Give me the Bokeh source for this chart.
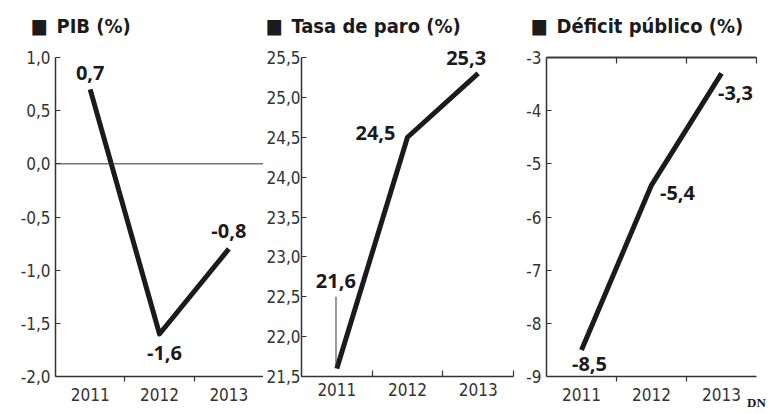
from bokeh.plotting import figure
from bokeh.layouts import row
from bokeh.models import FixedTicker, Label, Span, LinearAxis, Range1d, Title
from bokeh.embed import file_html
from bokeh.resources import INLINE

# ---- data ----
years = ["2011", "2012", "2013"]
pib = [0.7, -1.6, -0.8]
paro = [21.6, 24.5, 25.3]
deficit = [-8.5, -5.4, -3.3]

pib_ticks = [1.0, 0.5, 0.0, -0.5, -1.0, -1.5, -2.0]
paro_ticks = [25.5, 25.0, 24.5, 24.0, 23.5, 23.0, 22.5, 22.0, 21.5]
deficit_ticks = [-3, -4, -5, -6, -7, -8, -9]

titles = ["■\u2002PIB (%)", "■\u2002Tasa de paro (%)", "■\u2002Déficit público (%)"]
source_note = "DN"

# ---- style ----
INK = "#1c1a1b"
AX = "#333333"
TICK_FONT = "'DejaVu Sans Condensed', Roboto"
TITLE_FONT = "'DejaVu Sans Condensed', Roboto"
VAL_FONT = "Open Sans"
FRAME_H = 332          # plot area height (incl. headroom above the top tick)
HEAD_PX = 13           # headroom above the top tick, in pixels
TOP_TICK_PX = 6


def comma1(v):
    return f"{v:.1f}".replace(".", ",")


def comma0(v):
    return f"{v:.0f}"


xs = [i + 0.5 for i in range(len(years))]
bounds = [float(i) for i in range(1, len(years) + 1)]


def make_panel(vals, yticks, yfmt, frame_w, bl, br, ystandoff, minor, minor_in,
               title, title_off, offsets):
    lo, hi = min(yticks), max(yticks)
    pad = (hi - lo) * HEAD_PX / (FRAME_H - HEAD_PX)
    p = figure(frame_width=frame_w, frame_height=FRAME_H,
               x_range=Range1d(0, len(years)),
               y_range=Range1d(lo, hi + pad),
               output_backend="svg", toolbar_location=None, tools="",
               min_border_left=bl, min_border_right=br,
               min_border_top=44, min_border_bottom=37)
    p.xgrid.visible = False
    p.ygrid.visible = False
    p.outline_line_color = None
    p.background_fill_color = "white"
    p.border_fill_color = "white"

    # y axis
    ya = p.yaxis[0]
    ya.ticker = FixedTicker(ticks=yticks)
    ya.bounds = (lo, hi)
    ya.major_label_overrides = {t: yfmt(t) for t in yticks}
    ya.major_tick_in = 5
    ya.major_tick_out = 0
    ya.minor_tick_line_color = None
    ya.axis_line_color = AX
    ya.axis_line_width = 1.5
    ya.major_tick_line_color = AX
    ya.major_tick_line_width = 1.2
    ya.major_label_text_font = TICK_FONT
    ya.major_label_text_font_size = "17px"
    ya.major_label_text_color = AX
    ya.major_label_standoff = ystandoff

    # x axis: labels at category centres, ticks at category boundaries
    xa = p.below[0]
    xa.ticker = FixedTicker(ticks=xs, minor_ticks=minor)
    xa.major_label_overrides = {x: y for x, y in zip(xs, years)}
    xa.major_tick_in = 0
    xa.major_tick_out = 0
    if minor_in:
        xa.minor_tick_in = 6
        xa.minor_tick_out = 0
    else:
        xa.minor_tick_in = 0
        xa.minor_tick_out = 5
    xa.minor_tick_line_color = AX
    xa.minor_tick_line_width = 1.2
    xa.axis_line_color = AX
    xa.axis_line_width = 1.5
    xa.major_label_text_font = TICK_FONT
    xa.major_label_text_font_size = "17px"
    xa.major_label_text_color = AX
    xa.major_label_standoff = 6

    # data line
    p.line(xs, vals, line_width=5, line_color=INK, line_join="round")

    for x, v, (dx, dy) in zip(xs, vals, offsets):
        p.add_layout(Label(x=x, y=v, text=comma1(v), x_offset=dx, y_offset=dy,
                           text_align="center", text_baseline="middle",
                           text_font=VAL_FONT, text_font_style="bold",
                           text_font_size="20px", text_color=INK))

    p.add_layout(Title(text=title, align="left", offset=title_off,
                       standoff=14, text_font=TITLE_FONT,
                       text_font_style="bold", text_font_size="20px",
                       text_color=INK), "above")
    return p


p1 = make_panel(pib, pib_ticks, comma1, 208, 55, 0, 5, bounds[:-1], False,
                titles[0], -25, [(0, 16), (5, -19), (0, 18)])
p1.add_layout(Span(location=0, dimension="width", line_color=AX, line_width=1))

p2 = make_panel(paro, paro_ticks, comma1, 212, 37, 8, 1, bounds, True,
                titles[1], -36, [(-1, 88), (-32, 4), (-12, 15)])
# leader line from label 21,6 down to its point
leader_len = 0.9
p2.segment(x0=[xs[0] - 0.012], y0=[paro[0]], x1=[xs[0] - 0.012], y1=[paro[0] + leader_len],
           line_color=AX, line_width=1)

p3 = make_panel(deficit, deficit_ticks, comma0, 210, 25, 26, 5, bounds[:-1], False,
                titles[2], -16, [(8, -14), (26, -8), (14, -20)])
# top rule at the highest tick (-3) with ticks hanging down from it
d_top = max(deficit_ticks)
d_unit = (max(deficit_ticks) - min(deficit_ticks)) / (FRAME_H - HEAD_PX)
p3.ygrid.visible = True
p3.ygrid.ticker = FixedTicker(ticks=[d_top])
p3.ygrid.grid_line_color = AX
p3.ygrid.grid_line_width = 1.5
p3.ygrid.level = "overlay"
p3.add_layout(Span(location=d_top, dimension="width", line_color=AX,
                   line_width=1.5, level="overlay"))
p3.segment(x0=bounds, y0=[d_top] * len(bounds), x1=bounds,
           y1=[d_top - TOP_TICK_PX * d_unit] * len(bounds),
           line_color=AX, line_width=1.2, level="overlay")

# source note: a label-only second bottom axis under the years, at the right end
dn_axis = LinearAxis(ticker=FixedTicker(ticks=[float(len(years))]))
dn_axis.major_label_overrides = {float(len(years)): source_note}
dn_axis.axis_line_color = None
dn_axis.major_tick_line_color = None
dn_axis.minor_tick_line_color = None
dn_axis.major_tick_in = 0
dn_axis.major_tick_out = 0
dn_axis.major_label_standoff = -9
dn_axis.major_label_text_font = "Liberation Serif"
dn_axis.major_label_text_font_style = "bold"
dn_axis.major_label_text_font_size = "13px"
dn_axis.major_label_text_color = INK
p3.add_layout(dn_axis, "below")

layout = row(p1, p2, p3, spacing=0)
open("out.html", "w").write(file_html(layout, INLINE))
